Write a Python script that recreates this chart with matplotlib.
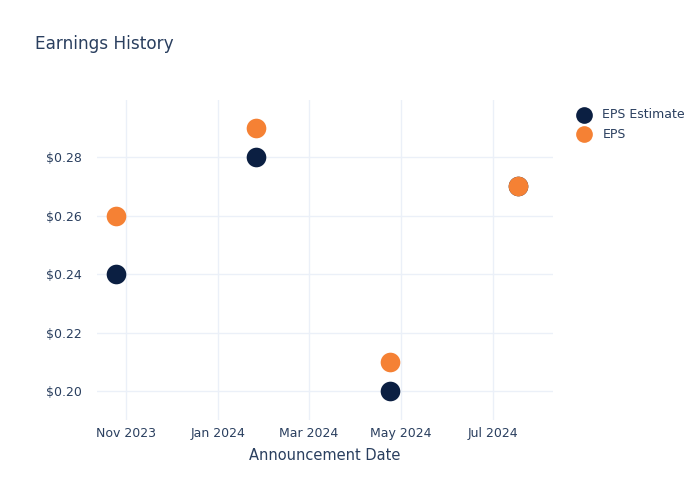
import matplotlib
matplotlib.use("Agg")
import matplotlib.pyplot as plt
import matplotlib.dates as mdates
import numpy as np
from datetime import datetime

dates = ["2023-10-25", "2024-01-26", "2024-04-24", "2024-07-18"]
eps_estimate = [0.24, 0.28, 0.20, 0.27]
eps_actual = [0.26, 0.29, 0.21, 0.27]
x_ticks = ["2023-11-01", "2024-01-01", "2024-03-01", "2024-05-01", "2024-07-01"]
y_ticks = [0.20, 0.22, 0.24, 0.26, 0.28]

TEXT = "#2a3f5f"
GRID = "#ebf0f8"

d = [datetime.strptime(s, "%Y-%m-%d") for s in dates]
xt = [datetime.strptime(s, "%Y-%m-%d") for s in x_ticks]

fig = plt.figure(figsize=(7, 5), dpi=100)
ax = fig.add_axes([97/700, 1 - 420/500, (553-97)/700, (420-100)/500])

ax.scatter(d, eps_estimate, s=200, color="#0b1f42", zorder=3, label="EPS Estimate", linewidths=0)
ax.scatter(d, eps_actual, s=200, color="#f58134", zorder=4, label="EPS", linewidths=0)

ax.set_xlim(datetime(2023, 10, 12, 12), datetime(2024, 8, 10))
ax.set_ylim(0.1901, 0.2995)
ax.set_xticks(xt)
ax.xaxis.set_major_formatter(mdates.DateFormatter("%b %Y"))
ax.set_yticks(y_ticks)
ax.set_yticklabels([f"${v:.2f}" for v in y_ticks])
ax.grid(True, color=GRID, linewidth=1)
ax.set_axisbelow(True)
for s in ax.spines.values():
    s.set_visible(False)
ax.tick_params(length=0, labelsize=9, colors=TEXT)
ax.tick_params(axis="y", pad=11)
ax.tick_params(axis="x", pad=5)
ax.set_xlabel("Announcement Date", fontsize=10.5, color=TEXT, labelpad=6)

fig.text(35/700, 1 - 44/500, "Earnings History", fontsize=12.2, color=TEXT, va="center", ha="left")

leg = ax.legend(loc="upper left", bbox_to_anchor=(571/700, 1 - 102/500), bbox_transform=fig.transFigure,
                frameon=False, fontsize=9, labelcolor=TEXT, handletextpad=1.0, markerscale=0.85,
                labelspacing=0.5, borderpad=0, handlelength=1.0)

fig.savefig("out.png", dpi=100)
